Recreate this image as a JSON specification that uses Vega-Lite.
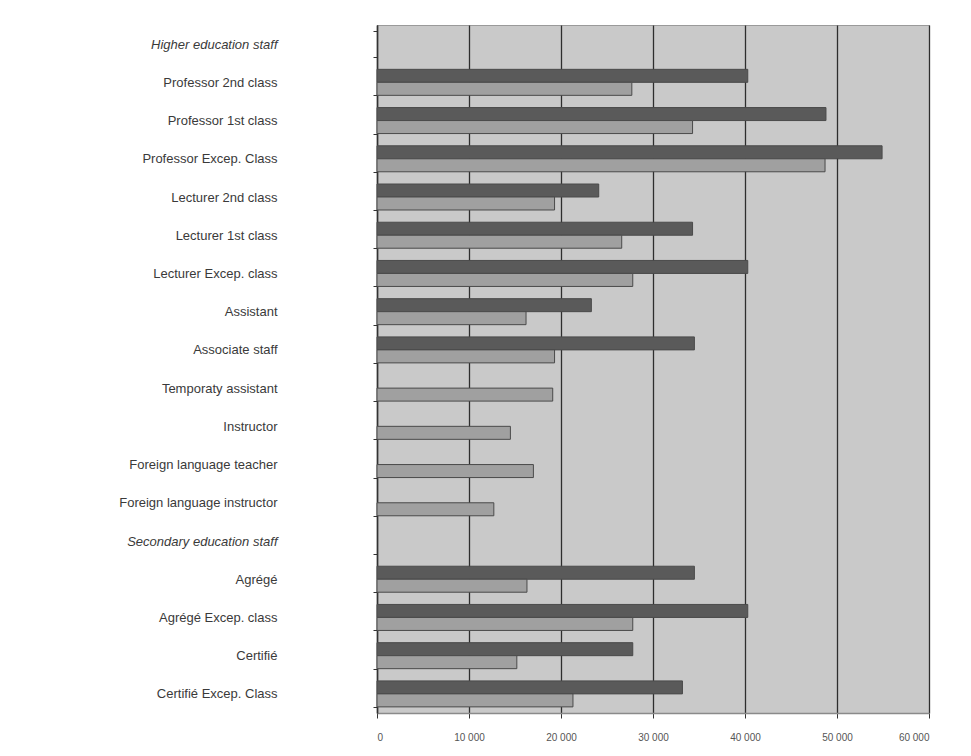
{
  "$schema": "https://vega.github.io/schema/vega-lite/v6.json",
  "width": 552,
  "height": 688,
  "autosize": "none",
  "padding": {"left": 377, "top": 25, "right": 42, "bottom": 43},
  "background": "white",
  "config": {
    "font": "Liberation Sans",
    "view": {"fill": "#c9c9c9", "stroke": "#9a9a9a", "strokeWidth": 1}
  },
  "data": {
    "values": [
      {"category": "Professor 2nd class", "series": "max", "value": 40300},
      {"category": "Professor 2nd class", "series": "min", "value": 27700},
      {"category": "Professor 1st class", "series": "max", "value": 48800},
      {"category": "Professor 1st class", "series": "min", "value": 34300},
      {"category": "Professor Excep. Class", "series": "max", "value": 54900},
      {"category": "Professor Excep. Class", "series": "min", "value": 48700},
      {"category": "Lecturer  2nd class", "series": "max", "value": 24100},
      {"category": "Lecturer  2nd class", "series": "min", "value": 19300},
      {"category": "Lecturer 1st class", "series": "max", "value": 34300},
      {"category": "Lecturer 1st class", "series": "min", "value": 26600},
      {"category": "Lecturer  Excep. class", "series": "max", "value": 40300},
      {"category": "Lecturer  Excep. class", "series": "min", "value": 27800},
      {"category": "Assistant", "series": "max", "value": 23300},
      {"category": "Assistant", "series": "min", "value": 16200},
      {"category": "Associate staff", "series": "max", "value": 34500},
      {"category": "Associate staff", "series": "min", "value": 19300},
      {"category": "Temporaty assistant", "series": "min", "value": 19100},
      {"category": "Instructor", "series": "min", "value": 14500},
      {"category": "Foreign language teacher", "series": "min", "value": 17000},
      {"category": "Foreign language instructor", "series": "min", "value": 12700},
      {"category": "Agrégé", "series": "max", "value": 34500},
      {"category": "Agrégé", "series": "min", "value": 16300},
      {"category": "Agrégé Excep. class", "series": "max", "value": 40300},
      {"category": "Agrégé Excep. class", "series": "min", "value": 27800},
      {"category": "Certifié", "series": "max", "value": 27800},
      {"category": "Certifié", "series": "min", "value": 15200},
      {"category": "Certifié Excep. Class", "series": "max", "value": 33200},
      {"category": "Certifié Excep. Class", "series": "min", "value": 21300}
    ]
  },
  "mark": {"type": "bar", "stroke": "#4a4a4a", "strokeWidth": 1},
  "encoding": {
    "y": {
      "field": "category",
      "type": "nominal",
      "scale": {
        "domain": [
          "Higher education staff",
          "Professor 2nd class",
          "Professor 1st class",
          "Professor Excep. Class",
          "Lecturer  2nd class",
          "Lecturer 1st class",
          "Lecturer  Excep. class",
          "Assistant",
          "Associate staff",
          "Temporaty assistant",
          "Instructor",
          "Foreign language teacher",
          "Foreign language instructor",
          "Secondary education staff",
          "Agrégé",
          "Agrégé Excep. class",
          "Certifié",
          "Certifié Excep. Class"
        ],
        "paddingInner": 0.32,
        "paddingOuter": 0.16
      },
      "axis": {
        "title": null,
        "tickBand": "extent",
        "tickSize": 4,
        "tickColor": "#333333",
        "domainColor": "#333333",
        "domainWidth": 1.5,
        "labelPadding": 96,
        "labelFontSize": 13,
        "labelColor": "#3a3a3a",
        "labelLimit": 320,
        "labelFontStyle": {
          "condition": {
            "test": "datum.value == 'Higher education staff' || datum.value == 'Secondary education staff'",
            "value": "italic"
          },
          "value": "normal"
        }
      }
    },
    "yOffset": {
      "field": "series",
      "type": "nominal",
      "sort": ["max", "min"],
      "scale": {"domain": ["max", "min"], "paddingInner": 0, "paddingOuter": 0}
    },
    "x": {
      "field": "value",
      "type": "quantitative",
      "scale": {"domain": [0, 60000], "nice": false},
      "axis": {
        "title": null,
        "values": [0, 10000, 20000, 30000, 40000, 50000, 60000],
        "labelExpr": "replace(format(datum.value, ','), ',', ' ')",
        "grid": true,
        "gridColor": "#2e2e2e",
        "gridWidth": 1.3,
        "domainColor": "#8a8a8a",
        "domainWidth": 1.5,
        "tickColor": "#333333",
        "tickSize": 5,
        "labelPadding": 14,
        "labelFontSize": 10,
        "labelColor": "#555555"
      }
    },
    "color": {
      "field": "series",
      "type": "nominal",
      "scale": {"domain": ["max", "min"], "range": ["#5a5a5a", "#a0a0a0"]},
      "legend": null
    }
  }
}
